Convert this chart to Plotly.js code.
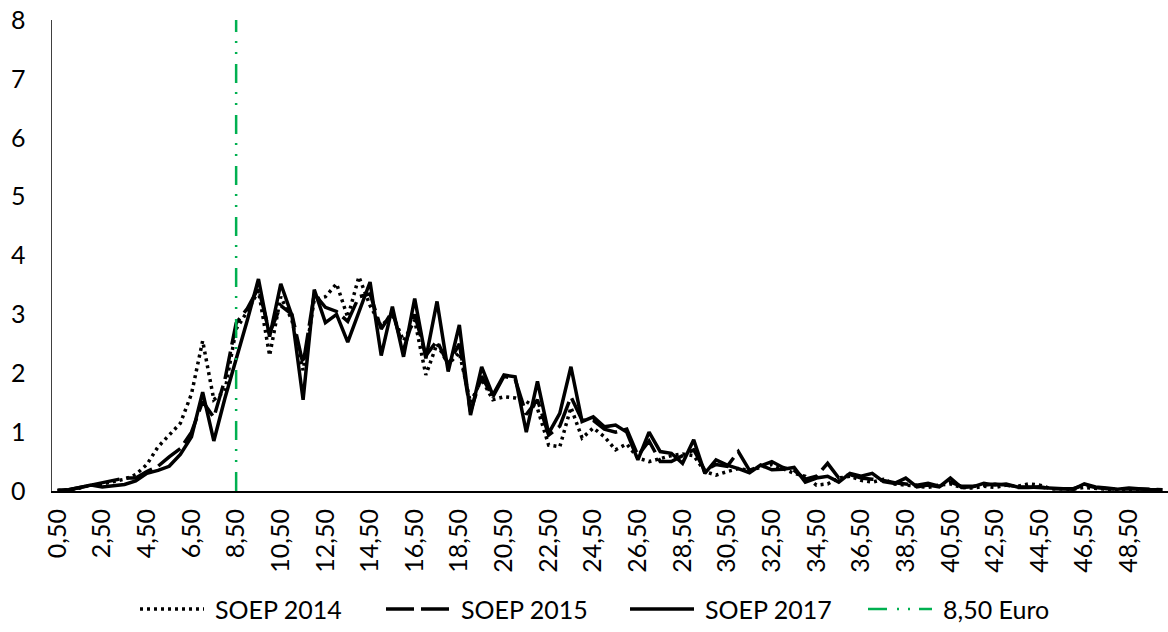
<!DOCTYPE html>
<html>
<head>
<meta charset="utf-8">
<script src="https://cdn.plot.ly/plotly-3.0.1.min.js"></script>
<style>html,body{margin:0;padding:0;background:#fff;}#chart{width:1168px;height:632px;}</style>
</head>
<body>
<div id="chart"></div>
<script>
// Hourly wage categories (Euro)
const categories = ["0,50","1,00","1,50","2,00","2,50","3,00","3,50","4,00","4,50","5,00",
"5,50","6,00","6,50","7,00","7,50","8,00","8,50","9,00","9,50","10,00",
"10,50","11,00","11,50","12,00","12,50","13,00","13,50","14,00","14,50","15,00",
"15,50","16,00","16,50","17,00","17,50","18,00","18,50","19,00","19,50","20,00",
"20,50","21,00","21,50","22,00","22,50","23,00","23,50","24,00","24,50","25,00",
"25,50","26,00","26,50","27,00","27,50","28,00","28,50","29,00","29,50","30,00",
"30,50","31,00","31,50","32,00","32,50","33,00","33,50","34,00","34,50","35,00",
"35,50","36,00","36,50","37,00","37,50","38,00","38,50","39,00","39,50","40,00",
"40,50","41,00","41,50","42,00","42,50","43,00","43,50","44,00","44,50","45,00",
"45,50","46,00","46,50","47,00","47,50","48,00","48,50","49,00","49,50","50,00"];

const tickLabels = ["0,50","2,50","4,50","6,50","8,50","10,50","12,50","14,50","16,50","18,50",
"20,50","22,50","24,50","26,50","28,50","30,50","32,50","34,50","36,50","38,50",
"40,50","42,50","44,50","46,50","48,50"];

const soep2014 = [0.01,0.02,0.05,0.10,0.12,0.16,0.20,0.28,0.45,0.75,
0.95,1.15,1.65,2.55,1.55,1.70,2.75,3.05,3.40,2.30,
3.30,2.90,2.05,3.25,3.30,3.52,2.95,3.64,3.15,2.80,
3.00,2.55,2.90,1.97,2.50,2.15,2.35,1.50,1.90,1.55,
1.60,1.58,1.52,1.40,0.78,0.75,1.42,0.90,1.07,0.92,
0.70,0.80,0.56,0.50,0.55,0.60,0.63,0.60,0.33,0.27,
0.33,0.38,0.35,0.40,0.45,0.38,0.30,0.25,0.10,0.12,
0.22,0.25,0.18,0.15,0.20,0.12,0.10,0.08,0.06,0.10,
0.12,0.06,0.05,0.08,0.06,0.10,0.08,0.12,0.10,0.04,
0.03,0.03,0.06,0.04,0.03,0.02,0.03,0.02,0.01,0.01];

const soep2015 = [0.01,0.02,0.06,0.10,0.13,0.18,0.22,0.22,0.33,0.42,
0.58,0.72,1.00,1.52,1.25,1.90,2.85,3.10,3.45,2.68,
3.15,3.00,2.15,3.35,3.12,3.05,2.88,3.30,3.35,2.75,
3.05,2.40,3.00,2.30,2.55,2.15,2.50,1.35,1.95,1.60,
1.95,1.90,1.30,1.55,0.95,1.10,1.60,1.20,1.20,1.05,
1.00,1.05,0.60,0.85,0.50,0.50,0.60,0.70,0.35,0.45,
0.42,0.67,0.35,0.42,0.50,0.40,0.35,0.20,0.25,0.47,
0.22,0.28,0.22,0.20,0.18,0.14,0.12,0.10,0.13,0.08,
0.15,0.08,0.08,0.10,0.12,0.10,0.06,0.06,0.07,0.04,
0.04,0.04,0.10,0.06,0.04,0.03,0.04,0.03,0.02,0.02];

const soep2017 = [0.01,0.02,0.06,0.10,0.07,0.09,0.11,0.17,0.30,0.35,
0.42,0.62,0.92,1.68,0.85,1.58,2.22,2.90,3.60,2.62,
3.52,2.98,1.55,3.42,2.86,3.00,2.53,3.05,3.55,2.30,
3.13,2.28,3.27,2.25,3.22,2.03,2.82,1.29,2.11,1.63,
1.97,1.94,1.00,1.86,0.98,1.32,2.11,1.18,1.26,1.09,
1.12,1.00,0.53,1.00,0.67,0.64,0.47,0.87,0.30,0.53,
0.44,0.38,0.31,0.44,0.36,0.37,0.40,0.15,0.22,0.25,
0.15,0.30,0.25,0.30,0.16,0.13,0.22,0.07,0.10,0.07,
0.22,0.06,0.07,0.13,0.10,0.12,0.07,0.07,0.06,0.05,
0.05,0.03,0.12,0.07,0.05,0.03,0.05,0.03,0.02,0.02];

const minWageCategory = "8,50";
const yMin = 0, yMax = 8;
const seriesNames = ["SOEP 2014","SOEP 2015","SOEP 2017","8,50 Euro"];

// ---- styling / layout ----
const FONT = "Lato, 'Open Sans', sans-serif";
const GREEN = "#00B050";
const styles = [
  {color:"#000000", width:3.5, dash:"3px,4px"},
  {color:"#000000", width:3.5, dash:"28px,7px"},
  {color:"#000000", width:3.5, dash:"solid"},
  {color:GREEN, width:2.5, dash:"19px,10px,2px,9px,2px,9px"}
];

const traces = [
  {x:categories, y:soep2014, name:seriesNames[0], type:"scatter", mode:"lines", line:styles[0], cliponaxis:false},
  {x:categories, y:soep2015, name:seriesNames[1], type:"scatter", mode:"lines", line:styles[1], cliponaxis:false},
  {x:categories, y:soep2017, name:seriesNames[2], type:"scatter", mode:"lines", line:styles[2], cliponaxis:false},
  {x:[minWageCategory,minWageCategory], y:[yMin,yMax], name:seriesNames[3], type:"scatter", mode:"lines", line:styles[3], cliponaxis:false}
];

// custom legend (Excel-like long samples)
const W = 1168, H = 632, ML = 52, MR = 0, MT = 20, MB = 141;
const pw = W - ML - MR, ph = H - MT - MB;
const px2x = p => (p - ML) / pw;
const py2y = p => (H - MB - p) / ph;
const legStarts = [140, 386, 630, 868];
const sampleLen = 64, textOff = 73, legY = 609;
const shapes = [], annotations = [];
for (let k = 0; k < 4; k++) {
  shapes.push({type:"line", xref:"paper", yref:"paper",
    x0:px2x(legStarts[k]), x1:px2x(legStarts[k]+sampleLen), y0:py2y(legY), y1:py2y(legY),
    line:{color:styles[k].color, width:styles[k].width, dash:styles[k].dash}});
  annotations.push({xref:"paper", yref:"paper", x:px2x(legStarts[k]+textOff), y:py2y(legY),
    xanchor:"left", yanchor:"middle", showarrow:false, text:seriesNames[k],
    font:{family:FONT, size:25, color:"#000"}});
}

const layout = {
  width:W, height:H,
  margin:{l:ML, r:MR, t:MT, b:MB, pad:0},
  paper_bgcolor:"#fff", plot_bgcolor:"#fff",
  showlegend:false,
  font:{family:FONT, size:25, color:"#000"},
  xaxis:{type:"category", categoryorder:"array", categoryarray:categories,
    range:[-0.5, categories.length-0.5],
    tickmode:"array", tickvals:tickLabels, ticktext:tickLabels, tickangle:-90,
    showgrid:false, zeroline:false, showline:true, linecolor:"#000", linewidth:2,
    ticks:"", ticklabelstandoff:6, tickfont:{family:FONT, size:25, color:"#000"}},
  yaxis:{range:[yMin,yMax], dtick:1, showgrid:false, zeroline:false,
    showline:true, linecolor:"#404040", linewidth:1.5, ticks:"",
    ticklabelstandoff:20, tickfont:{family:FONT, size:25, color:"#000"}},
  shapes:shapes, annotations:annotations
};

Plotly.newPlot("chart", traces, layout, {staticPlot:true, displayModeBar:false});
</script>
</body>
</html>
